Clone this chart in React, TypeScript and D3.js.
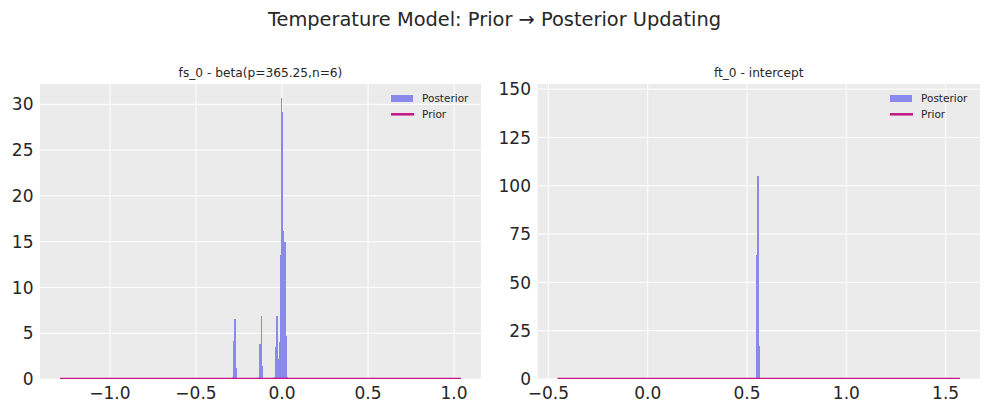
import React from "react";
import * as d3 from "d3";

const W = 989;
const H = 413;

// fs_0 posterior histogram (bin left edges, density)
const fsBinWidth = 0.0058;
const fsBinEdges = [
  -0.2934, -0.2876, -0.2818, -0.276, -0.2702,
  -0.137, -0.1312, -0.1254, -0.1196, -0.1138,
  -0.0443, -0.0385, -0.0327, -0.0269, -0.0211, -0.0153, -0.0095, -0.0037,
  0.0021, 0.0079, 0.0137, 0.0195, 0.0253, 0.0311,
];
const fsDensity = [
  0.2, 4.2, 6.6, 6.6, 1.2,
  0.2, 3.8, 3.8, 6.9, 1.4,
  0.2, 3.5, 6.9, 6.9, 2.2, 4.0, 13.5, 30.7,
  29.2, 16.2, 15.0, 15.0, 4.7, 0.2,
];
const fsPriorX = [-1.29, -0.5, 0, 0.5, 1.04];
const fsPriorY = [0, 0, 0, 0, 0];
const fsXTicks = [-1.0, -0.5, 0.0, 0.5, 1.0];
const fsYTicks = [0, 5, 10, 15, 20, 25, 30];

// ft_0 posterior histogram
const ftBinWidth = 0.0055;
const ftBinEdges = [0.547, 0.5525, 0.558];
const ftDensity = [64.2, 105, 17.2];
const ftPriorX = [-0.454, 0, 0.5, 1.0, 1.572];
const ftPriorY = [0, 0, 0, 0, 0];
const ftXTicks = [-0.5, 0.0, 0.5, 1.0, 1.5];
const ftYTicks = [0, 25, 50, 75, 100, 125, 150];

const FONT = "'DejaVu Sans', sans-serif";
const BAR = "#8a8aee";
const PRIOR = "#c71585";
const BG = "#ebebeb";
const TXT = "#262626";

type PanelProps = {
  id: string;
  title: string;
  left: number;
  right: number;
  top: number;
  bottom: number;
  xDomain: [number, number];
  yDomain: [number, number];
  edges: number[];
  dens: number[];
  binW: number;
  priorX: number[];
  priorY: number[];
  xTicks: number[];
  yTicks: number[];
};

function Panel(p: PanelProps) {
  const x = d3.scaleLinear().domain(p.xDomain).range([p.left, p.right]);
  const y = d3.scaleLinear().domain(p.yDomain).range([p.bottom, p.top]);
  const line = d3
    .line<number>()
    .x((_, i) => x(p.priorX[i]))
    .y((d) => y(d));
  const legX = p.right - 90;
  return (
    <g>
      <defs>
        <clipPath id={p.id}>
          <rect x={p.left} y={p.top} width={p.right - p.left} height={p.bottom - p.top} />
        </clipPath>
      </defs>
      <rect x={p.left} y={p.top} width={p.right - p.left} height={p.bottom - p.top} fill={BG} />
      {p.xTicks.map((t) => (
        <line key={"gx" + t} x1={x(t)} x2={x(t)} y1={p.top} y2={p.bottom} stroke="#fff" strokeWidth={1} />
      ))}
      {p.yTicks.map((t) => (
        <line key={"gy" + t} x1={p.left} x2={p.right} y1={y(t)} y2={y(t)} stroke="#fff" strokeWidth={1} />
      ))}
      <g clipPath={`url(#${p.id})`}>
        {p.edges.map((e, i) => {
          const x0 = Math.round(x(e));
          const x1 = Math.round(x(e + p.binW));
          return (
            <rect
              key={"b" + i}
              x={x0}
              y={y(p.dens[i])}
              width={Math.max(1, x1 - x0)}
              height={y(0) - y(p.dens[i])}
              fill={BAR}
              shapeRendering="crispEdges"
            />
          );
        })}
        <path d={line(p.priorY) || ""} fill="none" stroke={PRIOR} strokeWidth={2.5} />
      </g>
      {p.xTicks.map((t) => (
        <text key={"tx" + t} x={x(t)} y={399} textAnchor="middle" fontSize={17} fill={TXT} fontFamily={FONT}>
          {d3.format(".1f")(t).replace("-", "\u2212")}
        </text>
      ))}
      {p.yTicks.map((t) => (
        <text
          key={"ty" + t}
          x={p.left - 6.5}
          y={y(t)}
          dy="0.36em"
          textAnchor="end"
          fontSize={17}
          fill={TXT}
          fontFamily={FONT}
        >
          {t}
        </text>
      ))}
      <text x={(p.left + p.right) / 2} y={76.5} textAnchor="middle" fontSize={12.2} fill={TXT} fontFamily={FONT}>
        {p.title}
      </text>
      <rect x={legX} y={95} width={22} height={7} fill={BAR} />
      <text x={legX + 31} y={102} fontSize={10.5} fill={TXT} fontFamily={FONT}>
        Posterior
      </text>
      <line x1={legX} x2={legX + 23} y1={114.3} y2={114.3} stroke={PRIOR} strokeWidth={2.5} />
      <text x={legX + 31} y={118.3} fontSize={10.5} fill={TXT} fontFamily={FONT}>
        Prior
      </text>
    </g>
  );
}

export default function App() {
  return (
    <svg width={W} height={H} style={{ position: "absolute", left: 0, top: 0, background: "#fff" }}>
      <rect x={0} y={0} width={W} height={H} fill="#fff" />
      <text x={494.5} y={25.5} textAnchor="middle" fontSize={19.4} fill={TXT} fontFamily={FONT}>
        Temperature Model: Prior → Posterior Updating
      </text>
      <Panel
        id="clipL"
        title="fs_0 - beta(p=365.25,n=6)"
        left={40}
        right={481}
        top={84}
        bottom={379}
        xDomain={[-1.4065, 1.1565]}
        yDomain={[0, 32.22]}
        edges={fsBinEdges}
        dens={fsDensity}
        binW={fsBinWidth}
        priorX={fsPriorX}
        priorY={fsPriorY}
        xTicks={fsXTicks}
        yTicks={fsYTicks}
      />
      <Panel
        id="clipR"
        title="ft_0 - intercept"
        left={537.5}
        right={980}
        top={84}
        bottom={379}
        xDomain={[-0.555, 1.673]}
        yDomain={[0, 152.7]}
        edges={ftBinEdges}
        dens={ftDensity}
        binW={ftBinWidth}
        priorX={ftPriorX}
        priorY={ftPriorY}
        xTicks={ftXTicks}
        yTicks={ftYTicks}
      />
    </svg>
  );
}
